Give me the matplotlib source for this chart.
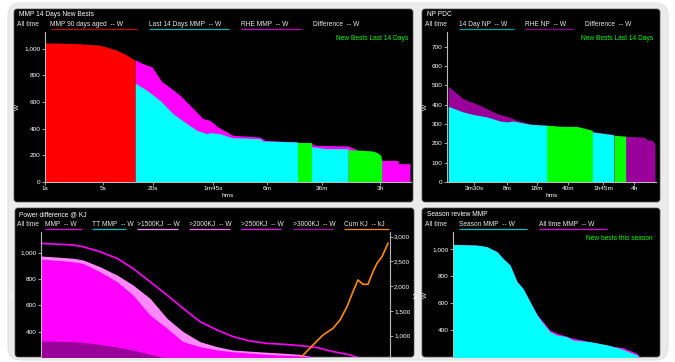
import matplotlib
matplotlib.use("Agg")
import matplotlib.pyplot as plt
from matplotlib.patches import FancyBboxPatch
from matplotlib.ticker import FuncFormatter

plt.rcParams['font.family'] = ['Liberation Sans', 'DejaVu Sans']

# ---------------- data ----------------
# Panel 1: MMP 14 Days New Bests (x = position along the hms axis)
p1_ticks = [0, 58, 108, 168, 222, 277, 335]
p1_ticklabels = ["1s", "5s", "20s", "1m45s", "6m", "36m", "3h"]
p1_aged_x = [0, 30, 55, 72, 82, 90]
p1_aged_w = [1042, 1038, 1025, 987, 950, 912]
p1_rhe_x = [90, 98, 107, 117, 122, 135, 145, 158, 165, 173, 185, 188, 215, 220, 252,
            253, 267, 270, 303, 337, 353, 353.5, 365]
p1_rhe_w = [917, 887, 862, 750, 725, 650, 575, 475, 462, 412, 362, 350, 337, 312, 300,
            292, 287, 275, 270, 162, 162, 137, 137]
p1_l14_x = [90, 102, 115, 128, 142, 152, 162, 165, 175, 185, 188, 215, 218, 252,
            267, 270, 280, 303]
p1_l14_w = [742, 687, 612, 512, 437, 387, 362, 370, 362, 337, 332, 325, 307, 300,
            262, 262, 250, 250]
p1_new1_x = [252.7, 266.7]
p1_new1_w = [292, 292]
p1_new2_x = [303, 318, 328, 333, 335.7, 336.7]
p1_new2_w = [242, 237, 232, 217, 200, 165]

# Panel 2: NP PDC
p2_ticks = [27, 60, 90, 121, 156, 187]
p2_ticklabels = ["3m30s", "8m", "18m", "40m", "1h45m", "4h"]
p2_rhe_x = [1.3, 16, 33, 50, 60, 70, 83, 96, 100, 145, 166, 167, 179, 195, 198, 200, 205, 207, 208]
p2_rhe_w = [496, 432, 397, 354, 340, 320, 302, 294, 294, 262, 248, 242, 237, 233, 230, 219, 216, 205, 190]
p2_np_x = [1.3, 16, 26, 40, 53, 60, 66, 83, 100, 145.3, 166.5]
p2_np_w = [392, 363, 350, 337, 316, 311, 316, 299, 294, 259, 245]
p2_new1_x = [99.7, 116, 130, 136, 145.3]
p2_new1_w = [294, 288, 288, 280, 268]
p2_new2_x = [167, 178.7]
p2_new2_w = [242, 237]

# Panel 3: Power difference @ KJ
p3_x = [0, 32, 42, 59, 76, 92, 109, 126, 142, 159, 176, 192, 209, 226, 242, 259, 276, 292, 309, 319, 326]
p3_mmp = [1069, 1057, 1044, 1006, 956, 880, 780, 679, 579, 478, 415, 365, 332, 314, 307, 297, 282, 252, 227, 201, 185]
p3_k1500 = [974, 957, 944, 893, 830, 755, 654, 503, 403, 327, 289, 264, 255, 247, 240, 231, 205, 190, 180, 170, 165]
p3_k2000 = [951, 931, 918, 855, 780, 679, 528, 428, 327, 289, 264, 251, 240, 231, 225, 220, 200, 185, 175, 165, 160]
p3_k3000 = [332, 327, 322, 306, 286, 264, 231, 201, 185, 170, 160, 150, 140, 130, 125, 120, 110, 100, 90, 80, 75]
p3_cum_x = [250, 259, 272, 282, 292, 299, 306, 312, 317, 322, 327, 332, 336, 341, 344, 347]
p3_cum_kj = [400, 539, 809, 1011, 1145, 1314, 1583, 1887, 2123, 2035, 2035, 2291, 2460, 2594, 2729, 2864]

# Panel 4: Season review MMP
p4_season_x = [0.3, 24, 34, 44, 50, 57, 64, 70, 77, 84, 89, 97, 104, 114, 120, 137, 154, 167, 184, 187]
p4_season_w = [1038, 1033, 1021, 983, 933, 884, 759, 709, 609, 510, 459, 384, 360, 347, 322, 310, 285, 260, 210, 185]
p4_all_x = [0.3, 24, 34, 44, 50, 57, 64, 70, 77, 84, 89, 97, 104, 114, 117, 124, 137, 154, 160, 170, 184, 187]
p4_all_w = [1038, 1033, 1021, 983, 933, 884, 759, 709, 609, 515, 470, 395, 372, 350, 340, 330, 310, 287, 275, 265, 222, 195]

# ---------------- figure ----------------
W, H = 675, 362
fig = plt.figure(figsize=(W / 100, H / 100), dpi=100, facecolor="white")
bg = fig.add_axes([0, 0, 1, 1])
bg.set_xlim(0, W)
bg.set_ylim(H, 0)
bg.axis("off")

bg.add_patch(FancyBboxPatch((8, 3), 660, 357, boxstyle="round,pad=0,rounding_size=13",
                            facecolor="#ebebeb", edgecolor="#e2e2e2", lw=0.8))
for (x0, y0, x1, y1) in [(14, 9, 413, 202), (422, 9, 660, 202), (15, 208, 414, 357), (422, 208, 660, 357)]:
    bg.add_patch(FancyBboxPatch((x0, y0), x1 - x0, y1 - y0, boxstyle="round,pad=0,rounding_size=3",
                                facecolor="black", edgecolor="#555555", lw=0.5))

TXT = "#e6e6e6"
FS = 4.8


def t(x, y, s, color=TXT, ha="left", size=FS, **kw):
    bg.text(x, y, s, color=color, ha=ha, va="center", fontsize=size, **kw)


def legend(entries, y):
    for x, s, col, x_end in entries:
        t(x, y, s)
        if col is not None:
            bg.plot([x, x_end], [y + 3.6, y + 3.6], color=col, lw=0.9, solid_capstyle="butt")


# titles
t(19, 14.5, "MMP 14 Days New Bests", color="white")
t(427, 14.5, "NP PDC", color="white")
t(19, 214.5, "Power difference @ KJ", color="white")
t(427, 214.5, "Season review MMP", color="white")

legend([(17, "All time", None, 0),
        (50.5, "MMP 90 days aged  -- W", "#c00000", 137),
        (149, "Last 14 Days MMP  -- W", "#00b3b3", 229),
        (241, "RHE MMP  -- W", "#c000c0", 301),
        (313, "Difference  -- W", None, 0)], 25)
legend([(425, "All time", None, 0),
        (459, "14 Day NP  -- W", "#00a0a0", 514),
        (525, "RHE NP  -- W", "#900090", 573),
        (585, "Difference  -- W", None, 0)], 25)
legend([(17, "All time", None, 0),
        (45, "MMP  -- W", "#e000e0", 82),
        (92, "TT MMP  -- W", "#00c0c0", 126),
        (137, ">1500KJ  -- W", "#ff88ff", 178),
        (189, ">2000KJ  -- W", "#ff66ff", 230),
        (241, ">2500KJ  -- W", "#ff00ff", 281),
        (293, ">3000KJ  -- W", "#b000b0", 333),
        (344, "Cum KJ  -- kJ", "#ff8c00", 389)], 225)
legend([(425, "All time", None, 0),
        (459, "Season MMP  -- W", "#00c0c0", 527),
        (539, "All time MMP  -- W", "#e000e0", 607)], 225)

GREEN = "#00ff00"
t(408, 39, "New Bests Last 14 Days", color=GREEN, ha="right")
t(653, 39, "New Bests Last 14 Days", color=GREEN, ha="right")
t(653, 239, "New bests this season", color=GREEN, ha="right")


def add_axes(x0, y0, x1, y1):
    ax = fig.add_axes([x0 / W, 1 - y1 / H, (x1 - x0) / W, (y1 - y0) / H])
    ax.set_facecolor("none")
    for s in ["top", "right"]:
        ax.spines[s].set_visible(False)
    for s in ["left", "bottom"]:
        ax.spines[s].set_color("#bbbbbb")
        ax.spines[s].set_linewidth(0.8)
    ax.tick_params(colors="#bbbbbb", labelcolor="white", labelsize=4.6, length=2, width=0.6, pad=1)
    ax.yaxis.set_major_formatter(FuncFormatter(lambda v, p: f"{int(v):,}"))
    return ax


CYAN, MAG, RED, PURP = "#00ffff", "#ff00ff", "#ff0000", "#990099"

# Panel 1
ax1 = add_axes(45, 32, 411, 182)
ax1.fill_between(p1_rhe_x, p1_rhe_w, color=MAG, lw=0)
ax1.fill_between(p1_l14_x, p1_l14_w, color=CYAN, lw=0)
ax1.fill_between(p1_aged_x, p1_aged_w, color=RED, lw=0)
ax1.fill_between(p1_new1_x, p1_new1_w, color=GREEN, lw=0)
ax1.fill_between(p1_new2_x, p1_new2_w, color=GREEN, lw=0)
ax1.set_xlim(0, 366)
ax1.set_ylim(0, 1124)
ax1.set_xticks(p1_ticks, p1_ticklabels)
ax1.set_yticks([0, 200, 400, 600, 800, 1000])
ax1.set_xlabel("hms", color="white", fontsize=4.6, labelpad=1)
ax1.set_ylabel("W", color="white", fontsize=4.6, labelpad=3)

# Panel 2
ax2 = add_axes(447, 32, 656, 182)
ax2.fill_between(p2_rhe_x, p2_rhe_w, color=PURP, lw=0)
ax2.fill_between(p2_np_x, p2_np_w, color=CYAN, lw=0)
ax2.fill_between(p2_new1_x, p2_new1_w, color=GREEN, lw=0)
ax2.fill_between(p2_new2_x, p2_new2_w, color=GREEN, lw=0)
ax2.set_xlim(0, 209)
ax2.set_ylim(0, 777)
ax2.set_xticks(p2_ticks, p2_ticklabels)
ax2.set_yticks(range(0, 701, 100))
ax2.set_xlabel("hms", color="white", fontsize=4.6, labelpad=1)
ax2.set_ylabel("W", color="white", fontsize=4.6, labelpad=3)

# Panel 3
ax3 = add_axes(41, 232, 390, 357)
ax3.spines["bottom"].set_visible(False)
ax3.fill_between(p3_x, p3_k1500, color="#ff88ff", lw=0)
ax3.fill_between(p3_x, p3_k2000, color=MAG, lw=0)
ax3.fill_between(p3_x, p3_k3000, color=PURP, lw=0)
ax3.plot(p3_x, p3_mmp, color=MAG, lw=1.2)
ax3.set_xlim(0, 349)
ax3.set_ylim(211, 1155)
ax3.set_xticks([])
ax3.set_yticks([400, 600, 800, 1000])
ax3.set_ylabel("W", color="white", fontsize=4.6, labelpad=3)
ax3r = ax3.twinx()
ax3r.set_facecolor("none")
for s in ["top", "left", "bottom"]:
    ax3r.spines[s].set_visible(False)
ax3r.spines["right"].set_color("#bbbbbb")
ax3r.spines["right"].set_linewidth(0.8)
ax3r.tick_params(colors="#bbbbbb", labelcolor="white", labelsize=4.6, length=2, width=0.6, pad=1)
ax3r.plot(p3_cum_x, p3_cum_kj, color="#ff8c00", lw=1.2)
ax3r.set_ylim(566, 3093)
ax3r.set_yticks([1000, 1500, 2000, 2500, 3000])
ax3r.yaxis.set_major_formatter(FuncFormatter(lambda v, p: f"{int(v):,}"))
ax3r.set_ylabel("kJ", color="white", fontsize=4.6, labelpad=2)

# Panel 4
ax4 = add_axes(453, 232, 658, 357)
ax4.spines["bottom"].set_visible(False)
ax4.fill_between(p4_all_x, p4_all_w, color=MAG, lw=0)
ax4.fill_between(p4_season_x, p4_season_w, color=CYAN, lw=0)
ax4.set_xlim(0, 205)
ax4.set_ylim(195, 1131)
ax4.set_xticks([])
ax4.set_yticks([400, 600, 800, 1000])
ax4.set_ylabel("W", color="white", fontsize=4.6, labelpad=3)

fig.savefig("out.png", dpi=100, facecolor="white")
